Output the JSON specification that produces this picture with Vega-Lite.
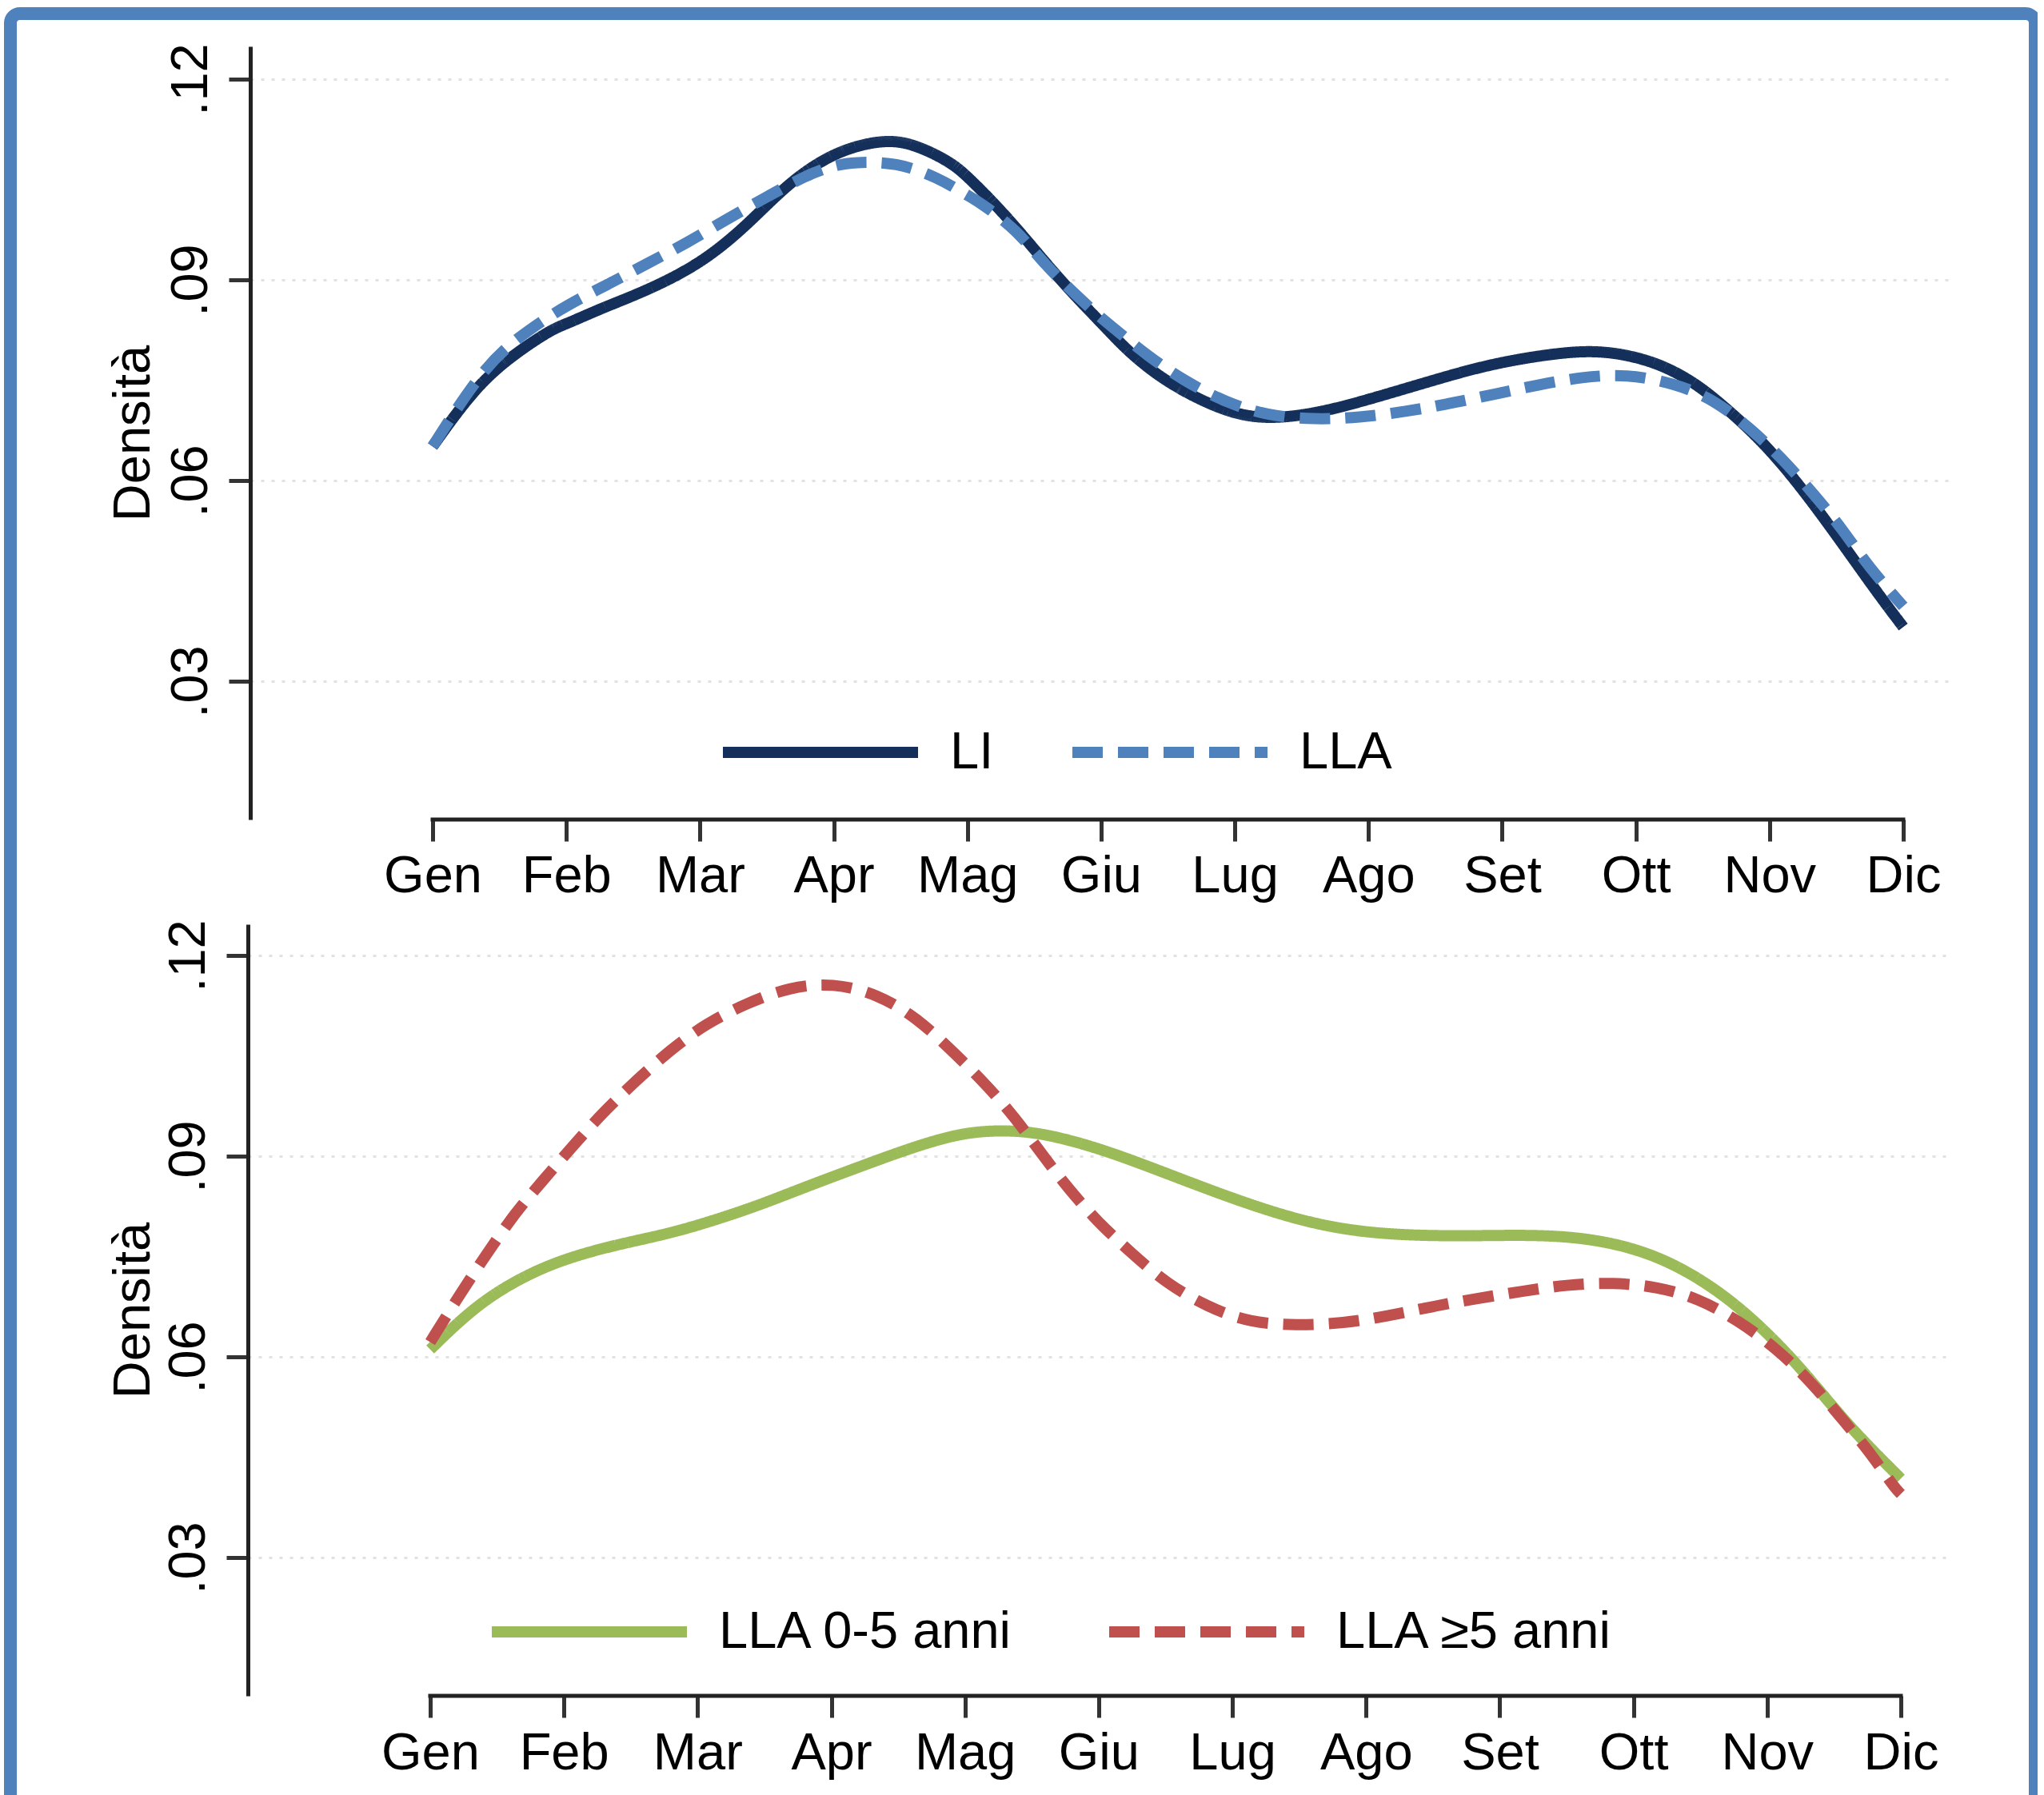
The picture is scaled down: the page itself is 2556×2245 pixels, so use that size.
{
  "$schema": "https://vega.github.io/schema/vega-lite/v6.json",
  "width": 2532,
  "height": 2245,
  "autosize": {"type": "none"},
  "padding": {"left": 13, "top": 17, "right": 3, "bottom": -17},
  "background": "white",
  "config": {
    "view": {"stroke": "#4F81BD", "strokeWidth": 16, "cornerRadius": 12},
    "font": "Liberation Sans, Arial, Helvetica, sans-serif",
    "axis": {
      "labelFont": "Liberation Sans, Arial, Helvetica, sans-serif", "labelFontSize": 65, "labelColor": "#000000",
      "titleFont": "Liberation Sans, Arial, Helvetica, sans-serif", "titleFontSize": 65, "titleFontWeight": "normal", "titleColor": "#000000",
      "tickColor": "#333333", "tickWidth": 5, "tickSize": 27,
      "domainColor": "#222222", "domainWidth": 5,
      "gridColor": "#e2e2e2", "gridDash": [4, 9], "gridWidth": 3,
      "labelFlush": false, "labelOverlap": false, "labelBound": false, "labelLimit": 0
    },
    "legend": {
      "labelFont": "Liberation Sans, Arial, Helvetica, sans-serif", "labelFontSize": 65, "labelColor": "#000000",
      "symbolType": "stroke", "symbolSize": 59536, "symbolStrokeWidth": 14,
      "labelOffset": 33, "padding": 0, "labelLimit": 0
    }
  },
  "datasets": {
    "top": [
      {"m": 1.00, "d": 0.0651, "s": "LI"}, {"m": 1.33, "d": 0.0743, "s": "LI"}, {"m": 1.63, "d": 0.0792, "s": "LI"},
      {"m": 1.90, "d": 0.0827, "s": "LI"}, {"m": 2.00, "d": 0.0834, "s": "LI"}, {"m": 2.28, "d": 0.0859, "s": "LI"},
      {"m": 2.58, "d": 0.0882, "s": "LI"}, {"m": 3.00, "d": 0.0923, "s": "LI"}, {"m": 3.35, "d": 0.0981, "s": "LI"},
      {"m": 3.66, "d": 0.1045, "s": "LI"}, {"m": 4.00, "d": 0.1091, "s": "LI"}, {"m": 4.34, "d": 0.1109, "s": "LI"},
      {"m": 4.57, "d": 0.1106, "s": "LI"}, {"m": 4.87, "d": 0.1077, "s": "LI"}, {"m": 5.00, "d": 0.1055, "s": "LI"},
      {"m": 5.32, "d": 0.0990, "s": "LI"}, {"m": 5.67, "d": 0.0904, "s": "LI"}, {"m": 6.00, "d": 0.0836, "s": "LI"},
      {"m": 6.14, "d": 0.0806, "s": "LI"}, {"m": 6.29, "d": 0.0778, "s": "LI"}, {"m": 6.53, "d": 0.0742, "s": "LI"},
      {"m": 6.92, "d": 0.0703, "s": "LI"}, {"m": 7.23, "d": 0.0691, "s": "LI"}, {"m": 7.61, "d": 0.0700, "s": "LI"},
      {"m": 8.00, "d": 0.0721, "s": "LI"}, {"m": 8.47, "d": 0.0749, "s": "LI"}, {"m": 8.94, "d": 0.0776, "s": "LI"},
      {"m": 9.49, "d": 0.0793, "s": "LI"}, {"m": 9.75, "d": 0.0793, "s": "LI"}, {"m": 9.95, "d": 0.0787, "s": "LI"},
      {"m": 10.18, "d": 0.0774, "s": "LI"}, {"m": 10.41, "d": 0.0750, "s": "LI"}, {"m": 10.61, "d": 0.0720, "s": "LI"},
      {"m": 11.00, "d": 0.0650, "s": "LI"}, {"m": 11.39, "d": 0.0550, "s": "LI"}, {"m": 11.78, "d": 0.0439, "s": "LI"},
      {"m": 12.00, "d": 0.0381, "s": "LI"},
      {"m": 1.00, "d": 0.0651, "s": "LLA"}, {"m": 1.40, "d": 0.0776, "s": "LLA"}, {"m": 1.73, "d": 0.0827, "s": "LLA"},
      {"m": 2.01, "d": 0.0863, "s": "LLA"}, {"m": 2.32, "d": 0.0894, "s": "LLA"}, {"m": 2.62, "d": 0.0926, "s": "LLA"},
      {"m": 2.91, "d": 0.0956, "s": "LLA"}, {"m": 3.21, "d": 0.0992, "s": "LLA"}, {"m": 3.50, "d": 0.1024, "s": "LLA"},
      {"m": 3.80, "d": 0.1057, "s": "LLA"}, {"m": 4.00, "d": 0.1071, "s": "LLA"}, {"m": 4.15, "d": 0.1076, "s": "LLA"},
      {"m": 4.47, "d": 0.1076, "s": "LLA"}, {"m": 4.78, "d": 0.1053, "s": "LLA"}, {"m": 5.00, "d": 0.1026, "s": "LLA"},
      {"m": 5.08, "d": 0.1018, "s": "LLA"}, {"m": 5.37, "d": 0.0975, "s": "LLA"}, {"m": 5.58, "d": 0.0922, "s": "LLA"},
      {"m": 5.83, "d": 0.0874, "s": "LLA"}, {"m": 6.00, "d": 0.0843, "s": "LLA"}, {"m": 6.10, "d": 0.0827, "s": "LLA"},
      {"m": 6.35, "d": 0.0786, "s": "LLA"}, {"m": 6.62, "d": 0.0749, "s": "LLA"}, {"m": 6.93, "d": 0.0717, "s": "LLA"},
      {"m": 7.24, "d": 0.0697, "s": "LLA"}, {"m": 7.60, "d": 0.0691, "s": "LLA"}, {"m": 7.93, "d": 0.0694, "s": "LLA"},
      {"m": 8.28, "d": 0.0703, "s": "LLA"}, {"m": 8.61, "d": 0.0715, "s": "LLA"}, {"m": 8.94, "d": 0.0729, "s": "LLA"},
      {"m": 9.27, "d": 0.0743, "s": "LLA"}, {"m": 9.60, "d": 0.0755, "s": "LLA"}, {"m": 9.93, "d": 0.0759, "s": "LLA"},
      {"m": 10.28, "d": 0.0746, "s": "LLA"}, {"m": 10.59, "d": 0.0721, "s": "LLA"}, {"m": 10.86, "d": 0.0677, "s": "LLA"},
      {"m": 11.08, "d": 0.0636, "s": "LLA"}, {"m": 11.34, "d": 0.0578, "s": "LLA"}, {"m": 11.55, "d": 0.0526, "s": "LLA"},
      {"m": 11.74, "d": 0.0471, "s": "LLA"}, {"m": 12.00, "d": 0.0412, "s": "LLA"}
    ],
    "bottom": [
      {"m": 1.00, "d": 0.0611, "s": "LLA 0-5 anni"}, {"m": 1.35, "d": 0.0679, "s": "LLA 0-5 anni"}, {"m": 1.72, "d": 0.0723, "s": "LLA 0-5 anni"},
      {"m": 2.03, "d": 0.0748, "s": "LLA 0-5 anni"}, {"m": 2.38, "d": 0.0767, "s": "LLA 0-5 anni"}, {"m": 2.76, "d": 0.0783, "s": "LLA 0-5 anni"},
      {"m": 3.06, "d": 0.0800, "s": "LLA 0-5 anni"}, {"m": 3.44, "d": 0.0825, "s": "LLA 0-5 anni"}, {"m": 3.82, "d": 0.0855, "s": "LLA 0-5 anni"},
      {"m": 4.21, "d": 0.0884, "s": "LLA 0-5 anni"}, {"m": 4.59, "d": 0.0912, "s": "LLA 0-5 anni"}, {"m": 4.97, "d": 0.0935, "s": "LLA 0-5 anni"},
      {"m": 5.28, "d": 0.0939, "s": "LLA 0-5 anni"}, {"m": 5.58, "d": 0.0935, "s": "LLA 0-5 anni"}, {"m": 6.04, "d": 0.0910, "s": "LLA 0-5 anni"},
      {"m": 6.56, "d": 0.0870, "s": "LLA 0-5 anni"}, {"m": 7.13, "d": 0.0827, "s": "LLA 0-5 anni"}, {"m": 7.63, "d": 0.0797, "s": "LLA 0-5 anni"},
      {"m": 8.10, "d": 0.0783, "s": "LLA 0-5 anni"}, {"m": 8.69, "d": 0.0780, "s": "LLA 0-5 anni"}, {"m": 9.27, "d": 0.0783, "s": "LLA 0-5 anni"},
      {"m": 9.74, "d": 0.0776, "s": "LLA 0-5 anni"}, {"m": 10.20, "d": 0.0751, "s": "LLA 0-5 anni"}, {"m": 10.63, "d": 0.0701, "s": "LLA 0-5 anni"},
      {"m": 10.98, "d": 0.0641, "s": "LLA 0-5 anni"}, {"m": 11.29, "d": 0.0575, "s": "LLA 0-5 anni"}, {"m": 11.60, "d": 0.0498, "s": "LLA 0-5 anni"},
      {"m": 12.00, "d": 0.0418, "s": "LLA 0-5 anni"},
      {"m": 1.00, "d": 0.0622, "s": "LLA ≥5 anni"}, {"m": 1.23, "d": 0.0696, "s": "LLA ≥5 anni"}, {"m": 1.42, "d": 0.0753, "s": "LLA ≥5 anni"},
      {"m": 1.63, "d": 0.0814, "s": "LLA ≥5 anni"}, {"m": 1.84, "d": 0.0863, "s": "LLA ≥5 anni"}, {"m": 2.07, "d": 0.0916, "s": "LLA ≥5 anni"},
      {"m": 2.30, "d": 0.0967, "s": "LLA ≥5 anni"}, {"m": 2.53, "d": 0.1011, "s": "LLA ≥5 anni"}, {"m": 2.79, "d": 0.1058, "s": "LLA ≥5 anni"},
      {"m": 3.06, "d": 0.1098, "s": "LLA ≥5 anni"}, {"m": 3.37, "d": 0.1129, "s": "LLA ≥5 anni"}, {"m": 3.69, "d": 0.1153, "s": "LLA ≥5 anni"},
      {"m": 4.01, "d": 0.1159, "s": "LLA ≥5 anni"}, {"m": 4.34, "d": 0.1143, "s": "LLA ≥5 anni"}, {"m": 4.64, "d": 0.1107, "s": "LLA ≥5 anni"},
      {"m": 4.89, "d": 0.1060, "s": "LLA ≥5 anni"}, {"m": 5.14, "d": 0.1011, "s": "LLA ≥5 anni"}, {"m": 5.37, "d": 0.0959, "s": "LLA ≥5 anni"},
      {"m": 5.56, "d": 0.0907, "s": "LLA ≥5 anni"}, {"m": 5.77, "d": 0.0852, "s": "LLA ≥5 anni"}, {"m": 6.00, "d": 0.0800, "s": "LLA ≥5 anni"},
      {"m": 6.24, "d": 0.0756, "s": "LLA ≥5 anni"}, {"m": 6.51, "d": 0.0709, "s": "LLA ≥5 anni"}, {"m": 6.82, "d": 0.0674, "s": "LLA ≥5 anni"},
      {"m": 7.13, "d": 0.0651, "s": "LLA ≥5 anni"}, {"m": 7.48, "d": 0.0647, "s": "LLA ≥5 anni"}, {"m": 7.83, "d": 0.0650, "s": "LLA ≥5 anni"},
      {"m": 8.16, "d": 0.0661, "s": "LLA ≥5 anni"}, {"m": 8.49, "d": 0.0675, "s": "LLA ≥5 anni"}, {"m": 8.82, "d": 0.0687, "s": "LLA ≥5 anni"},
      {"m": 9.17, "d": 0.0698, "s": "LLA ≥5 anni"}, {"m": 9.50, "d": 0.0708, "s": "LLA ≥5 anni"}, {"m": 9.85, "d": 0.0711, "s": "LLA ≥5 anni"},
      {"m": 10.18, "d": 0.0705, "s": "LLA ≥5 anni"}, {"m": 10.49, "d": 0.0687, "s": "LLA ≥5 anni"}, {"m": 10.78, "d": 0.0655, "s": "LLA ≥5 anni"},
      {"m": 11.08, "d": 0.0611, "s": "LLA ≥5 anni"}, {"m": 11.33, "d": 0.0562, "s": "LLA ≥5 anni"}, {"m": 11.54, "d": 0.0512, "s": "LLA ≥5 anni"},
      {"m": 11.76, "d": 0.0460, "s": "LLA ≥5 anni"}, {"m": 11.95, "d": 0.0405, "s": "LLA ≥5 anni"}, {"m": 12.00, "d": 0.0395, "s": "LLA ≥5 anni"}
    ]
  },
  "layer": [
    {
      "layer": [
        {
          "data": {"name": "top"},
          "mark": {"type": "line", "strokeWidth": 14, "interpolate": "basis", "strokeCap": "butt"},
          "encoding": {
            "x": {
              "field": "m", "type": "quantitative",
              "scale": {"domain": [-0.3638, 12.383], "range": [300, 2431], "nice": false, "zero": false},
              "axis": {
                "orient": "bottom", "offset": -1237, "title": null, "domain": false, "grid": false,
                "values": [1, 2, 3, 4, 5, 6, 7, 8, 9, 10, 11, 12],
                "labelExpr": "['Gen','Feb','Mar','Apr','Mag','Giu','Lug','Ago','Set','Ott','Nov','Dic'][datum.value-1]",
                "labelAlign": "center", "labelBaseline": "alphabetic", "labelPadding": 63
              }
            },
            "y": {
              "field": "d", "type": "quantitative",
              "scale": {"domain": [0.00932, 0.1249], "range": [1008, 41], "nice": false, "zero": false},
              "axis": {
                "orient": "left", "offset": -300, "title": "Densità", "grid": true, "domain": true,
                "values": [0.03, 0.06, 0.09, 0.12],
                "labelExpr": "replace(format(datum.value, '.2f'), '0.', '.')",
                "labelAngle": -90, "labelAlign": "center", "labelBaseline": "alphabetic", "labelPadding": 28,
                "titleAngle": 270, "titleBaseline": "alphabetic", "titleAlign": "center", "titleX": -127
              }
            },
            "color": {
              "field": "s", "type": "nominal",
              "scale": {"domain": ["LI", "LLA"], "range": ["#132F5A", "#4F81BD"]},
              "legend": {"title": null, "orient": "none", "direction": "horizontal", "legendX": 884, "legendY": 795, "columnPadding": 70}
            },
            "strokeDash": {
              "field": "s", "type": "nominal",
              "scale": {"domain": ["LI", "LLA"], "range": [[1, 0], [38, 19]]},
              "legend": {"title": null, "orient": "none", "direction": "horizontal", "legendX": 884, "legendY": 795, "columnPadding": 70}
            }
          }
        },
        {
          "data": {"values": [{}]},
          "mark": {"type": "rule", "color": "#222222", "strokeWidth": 5, "strokeCap": "square"},
          "encoding": {
            "x": {"datum": 1, "type": "quantitative"},
            "x2": {"datum": 12},
            "y": {"datum": 0.00932, "type": "quantitative"}
          }
        }
      ]
    },
    {
      "layer": [
        {
          "data": {"name": "bottom"},
          "mark": {"type": "line", "strokeWidth": 14, "interpolate": "basis", "strokeCap": "butt"},
          "encoding": {
            "x": {
              "field": "m", "type": "quantitative",
              "scale": {"domain": [-0.3636, 12.383], "range": [297, 2428], "nice": false, "zero": false},
              "axis": {
                "orient": "bottom", "offset": -141, "title": null, "domain": false, "grid": false,
                "values": [1, 2, 3, 4, 5, 6, 7, 8, 9, 10, 11, 12],
                "labelExpr": "['Gen','Feb','Mar','Apr','Mag','Giu','Lug','Ago','Set','Ott','Nov','Dic'][datum.value-1]",
                "labelAlign": "center", "labelBaseline": "alphabetic", "labelPadding": 64
              }
            },
            "y": {
              "field": "d", "type": "quantitative",
              "scale": {"domain": [0.00932, 0.12466], "range": [2104, 1139], "nice": false, "zero": false},
              "axis": {
                "orient": "left", "offset": -297, "title": "Densità", "grid": true, "domain": true,
                "values": [0.03, 0.06, 0.09, 0.12],
                "labelExpr": "replace(format(datum.value, '.2f'), '0.', '.')",
                "labelAngle": -90, "labelAlign": "center", "labelBaseline": "alphabetic", "labelPadding": 28,
                "titleAngle": 270, "titleBaseline": "alphabetic", "titleAlign": "center", "titleX": -124
              }
            },
            "color": {
              "field": "s", "type": "nominal",
              "scale": {"domain": ["LLA 0-5 anni", "LLA ≥5 anni"], "range": ["#9BBB59", "#C0504D"]},
              "legend": {"title": null, "orient": "none", "direction": "horizontal", "legendX": 595, "legendY": 1895, "columnPadding": 91}
            },
            "strokeDash": {
              "field": "s", "type": "nominal",
              "scale": {"domain": ["LLA 0-5 anni", "LLA ≥5 anni"], "range": [[1, 0], [38, 19]]},
              "legend": {"title": null, "orient": "none", "direction": "horizontal", "legendX": 595, "legendY": 1895, "columnPadding": 91}
            }
          }
        },
        {
          "data": {"values": [{}]},
          "mark": {"type": "rule", "color": "#222222", "strokeWidth": 5, "strokeCap": "square"},
          "encoding": {
            "x": {"datum": 1, "type": "quantitative"},
            "x2": {"datum": 12},
            "y": {"datum": 0.00932, "type": "quantitative"}
          }
        }
      ]
    }
  ],
  "resolve": {
    "scale": {"x": "independent", "y": "independent", "color": "independent", "strokeDash": "independent"},
    "axis": {"x": "independent", "y": "independent"},
    "legend": {"color": "independent", "strokeDash": "independent"}
  }
}
